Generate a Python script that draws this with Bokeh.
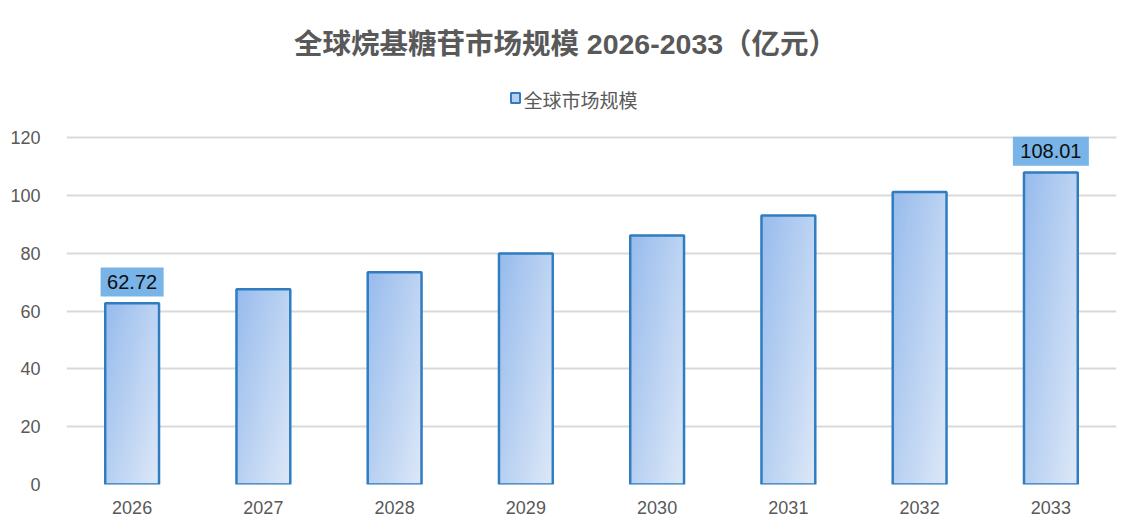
import numpy as np
from bokeh.plotting import figure
from bokeh.models import ColumnDataSource, Range1d, FixedTicker
from bokeh.core.properties import value
from bokeh.embed import file_html
from bokeh.resources import INLINE

# ---- data ----
years = ["2026", "2027", "2028", "2029", "2030", "2031", "2032", "2033"]
market_size = [62.72, 67.6, 73.5, 80.0, 86.2, 93.1, 101.3, 108.01]
labeled_idx = [0, 7]
y_ticks = [0, 20, 40, 60, 80, 100, 120]
title_text = "全球烷基糖苷市场规模 2026-2033（亿元）"
series_name = "全球市场规模"

# ---- layout constants ----
W, H = 1123, 516
BORDER_L, BORDER_R, BORDER_B = 66, 7, 30
FRAME_W = W - BORDER_L - BORDER_R
FRAME_H = H - BORDER_B
PX_PER_UNIT = 2.9
BAND = FRAME_W / len(years)
BAR_W = 0.41

def px_x(px):
    return -0.5 + (px - BORDER_L) / BAND

def px_y(py):
    return (H - BORDER_B - py) / PX_PER_UNIT

CJK = "Liberation Sans, Noto Sans CJK SC"
GRAY = "#595959"

p = figure(width=W, height=H, output_backend="svg", toolbar_location=None,
           x_range=Range1d(-0.5, len(years) - 0.5),
           y_range=Range1d(0, FRAME_H / PX_PER_UNIT),
           min_border_left=BORDER_L, min_border_right=BORDER_R,
           min_border_bottom=BORDER_B, min_border_top=0)
p.outline_line_color = None
p.background_fill_color = "white"

# axes
p.xaxis.ticker = FixedTicker(ticks=list(range(len(years))))
p.xaxis.major_label_overrides = {i: y for i, y in enumerate(years)}
p.yaxis.ticker = FixedTicker(ticks=y_ticks)
for ax in (p.xaxis[0], p.yaxis[0]):
    ax.axis_line_color = None
    ax.major_tick_line_color = None
    ax.minor_tick_line_color = None
    ax.major_label_text_font = "Liberation Sans"
    ax.major_label_text_font_size = "18px"
    ax.major_label_text_color = GRAY
p.xaxis.major_label_standoff = 10
p.yaxis.major_label_standoff = 20
p.xgrid.grid_line_color = None
p.ygrid.grid_line_color = "#D9D9D9"
p.ygrid.grid_line_width = 1.8

# gradient image for bars (diagonal, darker top-left -> lighter bottom-right)
IH, IW = 128, 64
u = np.linspace(0, 1, IW)[None, :]
vdown = np.linspace(1, 0, IH)[:, None]
t = np.clip(0.55 * u + 0.45 * vdown, 0, 1)
c0 = np.array([152, 188, 237])
c1 = np.array([222, 233, 248])
img = np.empty((IH, IW), dtype=np.uint32)
view = img.view(dtype=np.uint8).reshape((IH, IW, 4))
for k in range(3):
    view[:, :, k] = (c0[k] + (c1[k] - c0[k]) * t).astype(np.uint8)
view[:, :, 3] = 255

xs = np.arange(len(years), dtype=float)
src = ColumnDataSource(dict(x=xs, top=market_size, left=xs - BAR_W / 2,
                            image=[img] * len(years)))
p.image_rgba(image="image", x="left", y=0, dw=BAR_W, dh="top", source=src)
p.vbar(x="x", top="top", width=BAR_W, source=src, fill_color=None,
       line_color="#2F7DC0", line_width=2.5)

# data labels
lab_x = [xs[i] for i in labeled_idx]
lab_txt = [f"{market_size[i]:.2f}" for i in labeled_idx]
lab_y = [market_size[i] + 21.5 / PX_PER_UNIT for i in labeled_idx]
lab_w = [13 * len(s) - 2 for s in lab_txt]
lsrc = ColumnDataSource(dict(x=lab_x, y=lab_y, t=lab_txt, w=lab_w))
p.rect(x="x", y="y", width="w", height=29, width_units="screen",
       height_units="screen", source=lsrc, fill_color="#78B4E8",
       line_color=None)
p.text(x="x", y="y", text="t", source=lsrc, text_align="center",
       text_baseline="middle", text_font=value("Liberation Sans"),
       text_font_size="20px", text_color="#0D0D0D")

# title
p.text(x=[px_x(565)], y=[px_y(44)], text=[title_text], text_align="center",
       text_baseline="middle", text_font=value(CJK), text_font_size="28.5px",
       text_font_style="bold", text_color=GRAY)

# legend
p.rect(x=[px_x(515)], y=[px_y(98)], width=9, height=10, width_units="screen",
       height_units="screen", fill_color="#B5CFF1", line_color="#2F7DC0",
       line_width=2)
p.text(x=[px_x(523)], y=[px_y(99)], text=[series_name], text_align="left",
       text_baseline="middle", text_font=value("Noto Sans CJK SC"),
       text_font_size="19px", text_color=GRAY)

open("out.html", "w").write(file_html(p, INLINE))
